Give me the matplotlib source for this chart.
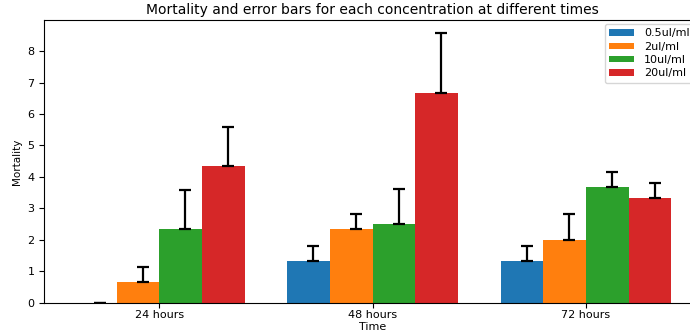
import matplotlib
matplotlib.use("Agg")
import matplotlib.pyplot as plt
import numpy as np

times = ["24 hours", "48 hours", "72 hours"]
concentrations = ["0.5ul/ml", "2ul/ml", "10ul/ml", "20ul/ml"]

# mean mortality per concentration, one value per time
mort_05 = [0.0, 1.33, 1.33]
mort_2 = [0.67, 2.33, 2.0]
mort_10 = [2.33, 2.5, 3.67]
mort_20 = [4.33, 6.67, 3.33]

# upper error per concentration
err_05 = [0.0, 0.47, 0.47]
err_2 = [0.47, 0.5, 0.82]
err_10 = [1.25, 1.1, 0.47]
err_20 = [1.25, 1.89, 0.47]

colors = ["#1f77b4", "#ff7f0e", "#2ca02c", "#d62728"]

fig = plt.figure(figsize=(6.9, 3.32), dpi=100)
ax = fig.add_axes([0.0642, 0.0883, 0.952, 0.8515])

x = np.arange(len(times))
width = 0.2
means = [mort_05, mort_2, mort_10, mort_20]
errs = [err_05, err_2, err_10, err_20]

for i in range(4):
    pos = x + (i - 1.5) * width
    ax.bar(pos, means[i], width, color=colors[i], label=concentrations[i])
    lower = np.zeros(len(times))
    ax.errorbar(pos + 0.022, means[i], yerr=[lower, errs[i]], fmt="none",
                ecolor="black", elinewidth=1.6, capsize=4.5, capthick=1.6)

ax.set_xticks(x)
ax.set_xticklabels(times, fontsize=8)
ax.tick_params(axis="both", labelsize=8)
ax.tick_params(axis="x", pad=2)
ax.set_xlabel("Time", fontsize=8, labelpad=1)
ax.set_ylabel("Mortality", fontsize=7.5)
ax.set_title("Mortality and error bars for each concentration at different times", fontsize=10, pad=4)
ax.legend(fontsize=8, handlelength=2.2, handleheight=0.5, handletextpad=0.9,
          labelspacing=0.3, loc="upper left", bbox_to_anchor=(605 / 690, 1 - 24 / 332),
          bbox_transform=fig.transFigure, borderaxespad=0)

fig.savefig("out.png", dpi=100)
